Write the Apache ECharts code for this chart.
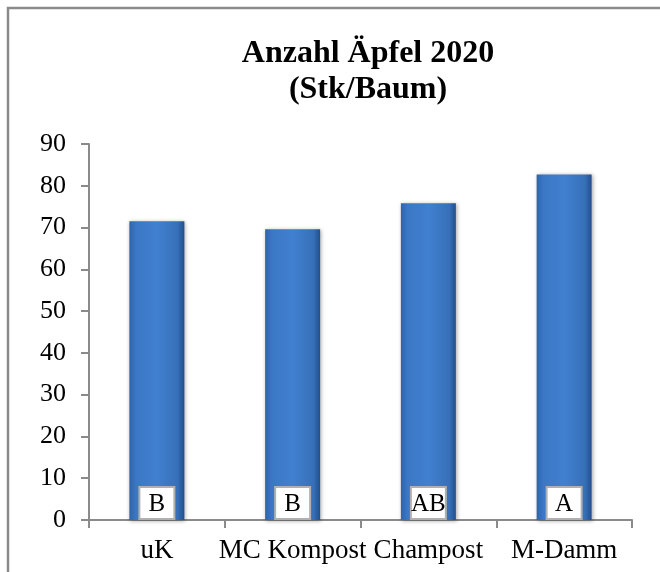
<!DOCTYPE html>
<html>
<head>
<meta charset="utf-8">
<script src="https://cdn.jsdelivr.net/npm/echarts@6/dist/echarts.min.js"></script>
<style>
html,body{margin:0;padding:0;background:#fff;}
#chart{width:660px;height:572px;}
</style>
</head>
<body>
<div id="chart"></div>
<script>
var categories = ['uK', 'MC Kompost', 'Champost', 'M-Damm'];
var values = [71.5, 69.6, 75.8, 82.7];
var letters = ['B', 'B', 'AB', 'A'];
var yTicks = [0, 10, 20, 30, 40, 50, 60, 70, 80, 90];

var serif = '"Liberation Serif", "Times New Roman", serif';
var chart = echarts.init(document.getElementById('chart'));
var barColor = new echarts.graphic.LinearGradient(0, 0, 1, 0, [
  {offset: 0, color: '#2f64aa'},
  {offset: 0.12, color: '#3b77c4'},
  {offset: 0.5, color: '#4180d0'},
  {offset: 0.88, color: '#3670b8'},
  {offset: 1, color: '#214f8c'}
]);
chart.setOption({
  animation: false,
  title: {
    text: 'Anzahl Äpfel 2020\n(Stk/Baum)',
    left: 363,
    textAlign: 'center',
    top: 31,
    textStyle: {fontFamily: serif, fontWeight: 'bold', fontSize: 32, color: '#000', lineHeight: 36}
  },
  graphic: [{
    type: 'rect',
    shape: {x: 8, y: 8, width: 800, height: 800},
    style: {fill: 'none', stroke: '#8a8a8a', lineWidth: 2.5},
    silent: true
  }],
  grid: {left: 89, right: 28, top: 144, bottom: 52, containLabel: false},
  xAxis: {
    type: 'category',
    data: categories,
    axisLine: {lineStyle: {color: '#8a8a8a', width: 2}},
    axisTick: {show: true, length: 8, lineStyle: {color: '#8a8a8a', width: 2}},
    axisLabel: {fontFamily: serif, fontSize: 27, color: '#000', margin: 17, interval: 0}
  },
  yAxis: {
    type: 'value',
    min: yTicks[0],
    max: yTicks[yTicks.length - 1],
    interval: 10,
    axisLine: {show: true, lineStyle: {color: '#8a8a8a', width: 2}},
    axisTick: {show: true, length: 8, lineStyle: {color: '#8a8a8a', width: 2}},
    splitLine: {show: false},
    axisLabel: {fontFamily: serif, fontSize: 26, color: '#000', margin: 23}
  },
  series: [{
    type: 'bar',
    data: values,
    barWidth: '40.5%',
    itemStyle: {
      color: barColor,
      shadowColor: 'rgba(0,0,0,0.35)',
      shadowBlur: 4,
      shadowOffsetX: 1,
      shadowOffsetY: 1
    },
    label: {
      show: true,
      position: 'insideBottom',
      distance: 2,
      formatter: function (p) { return letters[p.dataIndex]; },
      fontFamily: serif,
      fontSize: 25,
      color: '#000',
      backgroundColor: '#fff',
      borderColor: '#b0b0b0',
      borderWidth: 2,
      padding: [4, 1, 1, 1],
      width: 31,
      align: 'center'
    }
  }]
});
</script>
</body>
</html>
